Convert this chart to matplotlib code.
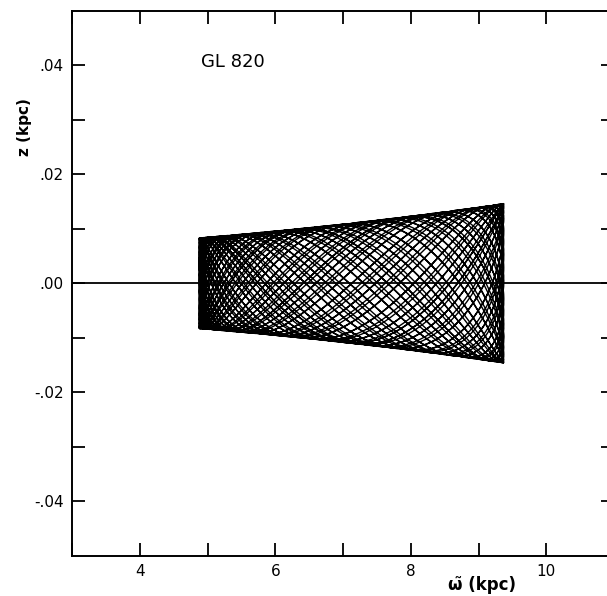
import numpy as np
import matplotlib
matplotlib.use("Agg")
import matplotlib.pyplot as plt

# axis setup
x_limits = [3, 11]
z_limits = [-0.05, 0.05]
x_major = [4, 6, 8, 10]
x_minor = [3, 5, 7, 9, 11]
z_major = [0.04, 0.02, 0.00, -0.02, -0.04]
z_major_labels = [".04", ".02", ".00", "-.02", "-.04"]
z_minor = [0.03, 0.01, -0.01, -0.03]
star_name = "GL 820"

# orbit of GL 820 in the meridional plane
r_peri = 4.88          # kpc, inner turning point
r_apo = 9.37           # kpc, outer turning point
z_max_inner = 0.0083   # kpc, half height of the orbit at r_peri
z_max_outer = 0.0146   # kpc, half height of the orbit at r_apo
nu_over_kappa = 2.382  # mean vertical / radial frequency (kept off resonance)
nu_slope = -0.8        # nu ~ r**nu_slope
n_radial = 36          # radial periods traced


def epicycle_orbit(n_steps=3000):
    # epicyclic approximation: harmonic radial motion,
    # vertical oscillation whose amplitude grows outwards
    t = np.linspace(0, 2 * np.pi * n_radial, n_radial * n_steps)
    dt = t[1] - t[0]
    r_guide = 0.5 * (r_peri + r_apo)
    amp = 0.5 * (r_apo - r_peri)
    r = r_guide - amp * np.cos(t)
    frac = (r - r_peri) / (r_apo - r_peri)
    z_amp = z_max_inner * (z_max_outer / z_max_inner) ** frac
    nu = (r / r_guide) ** nu_slope
    nu = nu_over_kappa * nu / nu.mean()
    phase = np.cumsum(nu) * dt + 0.3
    z = z_amp * np.sin(phase)
    return r, z


fig = plt.figure(figsize=(6.07, 5.96), dpi=100)
ax = fig.add_axes([72 / 607, 40 / 596, (614 - 72) / 607, (556 - 10.5) / 596])

r, z = epicycle_orbit()
ax.plot(r, z, color="black", lw=1.0)
ax.axhline(0, color="black", lw=1.3)

ax.set_xlim(x_limits)
ax.set_ylim(z_limits)

ax.set_xticks(x_major)
ax.set_xticks(x_minor, minor=True)
ax.set_xticklabels([str(v) for v in x_major])
ax.set_yticks(z_major)
ax.set_yticklabels(z_major_labels)
ax.set_yticks(z_minor, minor=True)

for which in ("major", "minor"):
    ax.tick_params(axis="both", which=which, direction="in", length=9.5,
                   width=1.3, top=True, right=True, labelsize=11, pad=6)

for sp in ax.spines.values():
    sp.set_linewidth(1.4)

fig.text(233 / 607, 1 - 62 / 596, star_name, fontsize=13,
         ha="center", va="center")
fig.text(25 / 607, 1 - 127 / 596, "z (kpc)", rotation=90, fontsize=11,
         fontweight="bold", ha="center", va="center")
fig.text(482 / 607, 1 - 585 / 596, "\u03c9\u0303 (kpc)",
         fontsize=12, fontweight="bold", ha="center", va="center")

fig.savefig("out.png", dpi=100)
